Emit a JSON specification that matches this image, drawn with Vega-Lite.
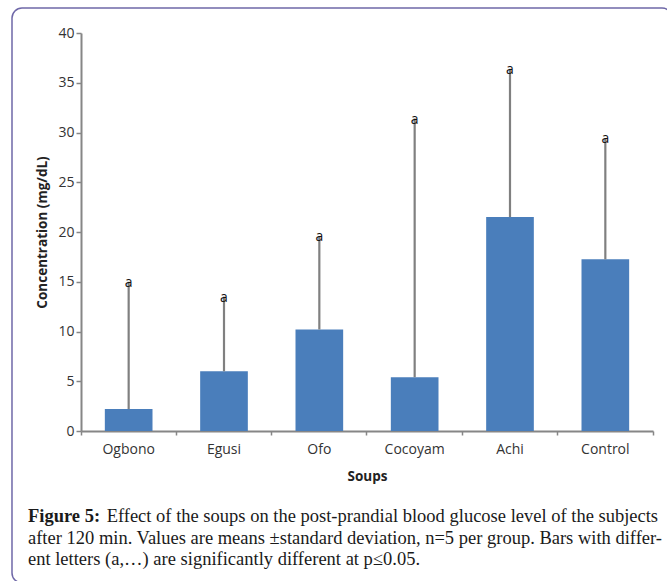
{
  "$schema": "https://vega.github.io/schema/vega-lite/v6.json",
  "width": 660,
  "height": 575,
  "autosize": {"type": "none"},
  "padding": {"left": 12, "top": 8, "right": 0, "bottom": 0},
  "background": "white",
  "config": {
    "view": {"stroke": "#6f68a8", "strokeWidth": 1.5, "cornerRadius": 10}
  },
  "title": {
    "text": "Figure 5:",
    "subtitle": [
      "\u200b\u00a0\u00a0\u00a0\u00a0\u00a0\u00a0\u00a0\u00a0\u00a0\u00a0\u00a0\u00a0\u00a0\u00a0\u00a0\u00a0\u00a0Effect of the soups on the post-prandial blood glucose level of the subjects",
      "after 120 min. Values are means ±standard deviation, n=5 per group. Bars with differ-",
      "ent letters (a,…) are significantly different at p≤0.05."
    ],
    "orient": "bottom",
    "anchor": "start",
    "frame": "group",
    "offset": -76,
    "dx": 16,
    "font": "Liberation Serif",
    "fontSize": 18.5,
    "fontWeight": "bold",
    "color": "#1a1a1a",
    "subtitleFont": "Liberation Serif",
    "subtitleFontSize": 18.5,
    "subtitleFontWeight": "normal",
    "subtitleColor": "#1a1a1a",
    "subtitleLineHeight": 21.5,
    "subtitlePadding": -18.5
  },
  "data": {
    "values": [
      {"soup": "Ogbono", "mean": 2.2, "upper": 15.0, "letter": "a"},
      {"soup": "Egusi", "mean": 6.0, "upper": 13.5, "letter": "a"},
      {"soup": "Ofo", "mean": 10.2, "upper": 19.6, "letter": "a"},
      {"soup": "Cocoyam", "mean": 5.4, "upper": 31.4, "letter": "a"},
      {"soup": "Achi", "mean": 21.5, "upper": 36.4, "letter": "a"},
      {"soup": "Control", "mean": 17.25, "upper": 29.4, "letter": "a"}
    ]
  },
  "encoding": {
    "x": {
      "field": "soup",
      "type": "nominal",
      "sort": null,
      "scale": {"range": [69, 641], "paddingInner": 0, "paddingOuter": 0},
      "axis": {
        "offset": -152,
        "title": "Soups",
        "titleFont": "Open Sans",
        "titleFontSize": 13.5,
        "titleFontWeight": "bold",
        "titleColor": "#222222",
        "titlePadding": 13,
        "labelFont": "Open Sans",
        "labelFontSize": 14,
        "labelColor": "#333333",
        "labelAngle": 0,
        "labelPadding": 7,
        "bandPosition": 1,
        "tickExtra": true,
        "tickSize": 4,
        "tickColor": "#868686",
        "tickWidth": 1.5,
        "domainColor": "#868686",
        "domainWidth": 2,
        "grid": false
      }
    }
  },
  "layer": [
    {
      "mark": {"type": "bar", "color": "#4a7ebb", "width": {"band": 0.5}},
      "encoding": {
        "y": {
          "field": "mean",
          "type": "quantitative",
          "scale": {"domain": [0, 40], "range": [423, 25], "nice": false, "zero": true},
          "axis": {
            "values": [0, 5, 10, 15, 20, 25, 30, 35, 40],
            "offset": -69,
            "title": "Concentration (mg/dL)",
            "titleFont": "Open Sans",
            "titleFontSize": 13.5,
            "titleFontWeight": "bold",
            "titleColor": "#222222",
            "titlePadding": 8,
            "labelFont": "Open Sans",
            "labelFontSize": 14,
            "labelColor": "#333333",
            "labelPadding": 2,
            "tickSize": 5,
            "tickColor": "#868686",
            "tickWidth": 1.5,
            "domainColor": "#868686",
            "domainWidth": 2,
            "grid": false
          }
        }
      }
    },
    {
      "mark": {"type": "rule", "color": "#808080", "strokeWidth": 2.2},
      "encoding": {
        "y": {"field": "mean", "type": "quantitative"},
        "y2": {"field": "upper"}
      }
    },
    {
      "mark": {"type": "text", "font": "Open Sans", "fontSize": 14, "color": "#111111", "baseline": "middle", "dy": 1},
      "encoding": {
        "y": {"field": "upper", "type": "quantitative"},
        "text": {"field": "letter"}
      }
    }
  ]
}
